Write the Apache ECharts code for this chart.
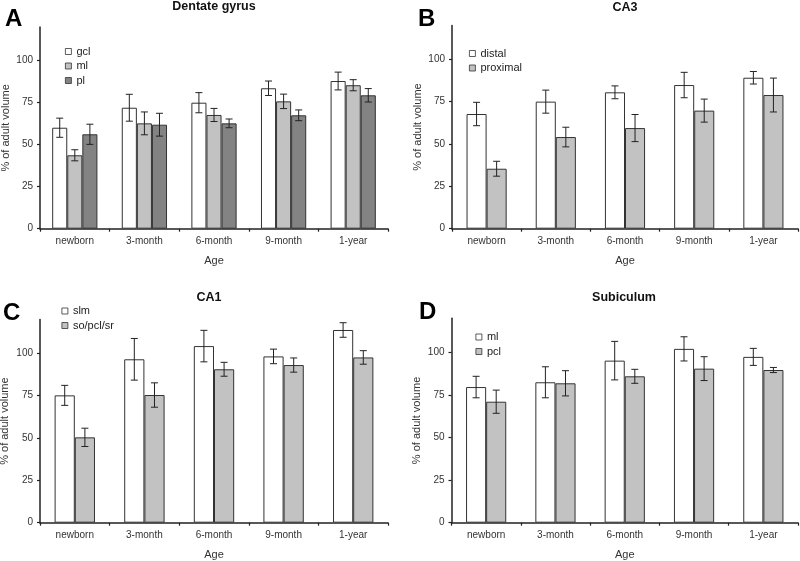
<!DOCTYPE html>
<html>
<head>
<meta charset="utf-8">
<script src="https://cdn.jsdelivr.net/npm/echarts@6/dist/echarts.min.js"></script>
<style>
html,body{margin:0;padding:0;background:#fff;}
#c{width:800px;height:561px;}
</style>
</head>
<body>
<div id="c"></div>
<script>
// ---- data ----
const ages = ['newborn', '3-month', '6-month', '9-month', '1-year'];
const yTicks = [0, 25, 50, 75, 100];

// A: Dentate gyrus
const dgGcl = [60.1, 72.0, 75.0, 83.6, 87.9];
const dgGclErr = [5.7, 8.0, 6.0, 4.3, 5.3];
const dgMl = [43.7, 62.7, 67.7, 75.8, 85.4];
const dgMlErr = [3.3, 6.8, 3.9, 4.3, 3.3];
const dgPl = [56.2, 61.9, 62.7, 67.5, 79.4];
const dgPlErr = [6.0, 6.8, 2.6, 3.2, 4.0];

// B: CA3
const ca3Distal = [67.7, 75.0, 80.5, 84.8, 89.1];
const ca3DistalErr = [6.9, 6.8, 3.8, 7.5, 3.7];
const ca3Proximal = [35.4, 54.1, 59.4, 69.7, 78.9];
const ca3ProximalErr = [4.4, 5.8, 8.0, 6.8, 10.0];

// C: CA1
const ca1Slm = [75.2, 96.5, 104.3, 98.2, 113.8];
const ca1SlmErr = [5.9, 12.3, 9.3, 4.3, 4.3];
const ca1So = [50.4, 75.4, 90.6, 93.1, 97.6];
const ca1SoErr = [5.4, 7.2, 4.1, 4.2, 4.0];

// D: Subiculum
const subMl = [79.6, 82.4, 95.1, 102.0, 97.3];
const subMlErr = [6.3, 9.1, 11.3, 7.1, 5.0];
const subPcl = [71.0, 81.8, 85.9, 90.4, 89.6];
const subPclErr = [6.8, 7.4, 4.1, 7.0, 1.5];

// ---- panels ----
const WHITE = '#ffffff', LIGHT = '#c2c2c2', DARK = '#838383';
const panels = [
  { key: 'A', title: 'Dentate gyrus', names: ['gcl', 'ml', 'pl'],
    values: [dgGcl, dgMl, dgPl], errs: [dgGclErr, dgMlErr, dgPlErr],
    colors: [WHITE, LIGHT, DARK], gap: 0.35 },
  { key: 'B', title: 'CA3', names: ['distal', 'proximal'],
    values: [ca3Distal, ca3Proximal], errs: [ca3DistalErr, ca3ProximalErr],
    colors: [WHITE, LIGHT], gap: 0.42 },
  { key: 'C', title: 'CA1', names: ['slm', 'so/pcl/sr'],
    values: [ca1Slm, ca1So], errs: [ca1SlmErr, ca1SoErr],
    colors: [WHITE, LIGHT], gap: 0.42 },
  { key: 'D', title: 'Subiculum', names: ['ml', 'pcl'],
    values: [subMl, subPcl], errs: [subMlErr, subPclErr],
    colors: [WHITE, LIGHT], gap: 0.42 }
];

// layout
const grids = [
  { left: 40, top: 27.1, width: 348, height: 201.6 },
  { left: 452, top: 25.4, width: 346, height: 203.3 },
  { left: 40, top: 319.5, width: 348, height: 203.2 },
  { left: 451.5, top: 318.2, width: 346.5, height: 204.5 }
];
const titlePos = [
  { x: 214, y: 0 }, { x: 625, y: 1 }, { x: 209, y: 291 }, { x: 624, y: 291 }
];
const letterPos = [
  { x: 5, y: 7 }, { x: 418, y: 7 }, { x: 3, y: 301.5 }, { x: 419, y: 300.5 }
];
const legendPos = [
  { left: 65, top: 45.5 }, { left: 469, top: 47.5 }, { left: 61.5, top: 305 }, { left: 475.5, top: 331 }
];
const yNameGap = [28.5, 28.5, 29.5, 29];

const FONT = '"Liberation Sans", Arial, sans-serif';
const AXIS = '#222';

const option = {
  backgroundColor: '#fff',
  animation: false,
  textStyle: { fontFamily: FONT },
  title: [],
  grid: [],
  xAxis: [],
  yAxis: [],
  legend: [],
  series: []
};

panels.forEach((p, gi) => {
  option.grid.push(Object.assign({ containLabel: false, outerBoundsMode: 'none' }, grids[gi]));
  option.title.push({
    text: p.title, left: titlePos[gi].x, top: titlePos[gi].y, textAlign: 'center', padding: 0,
    textStyle: { fontFamily: FONT, fontSize: 12.5, fontWeight: 'bold', color: '#111' }
  });
  option.title.push({
    text: p.key, left: letterPos[gi].x, top: letterPos[gi].y, padding: 0,
    textStyle: { fontFamily: FONT, fontSize: 24, fontWeight: 'bold', color: '#000' }
  });
  option.xAxis.push({
    type: 'category', gridIndex: gi, data: ages, boundaryGap: true,
    name: 'Age', nameLocation: 'middle', nameGap: 26.5,
    nameTextStyle: { fontFamily: FONT, fontSize: 11, color: '#333' },
    axisLine: { lineStyle: { color: AXIS, width: 1.5 } },
    axisTick: { show: true, interval: 0, length: 3, inside: false, lineStyle: { color: AXIS, width: 1.2 } },
    axisLabel: { interval: 0, margin: 8, fontFamily: FONT, fontSize: 10, color: '#333' },
    splitLine: { show: false }
  });
  option.yAxis.push({
    type: 'value', gridIndex: gi, min: 0, max: 120, interval: 25,
    name: '% of adult volume', nameLocation: 'middle', nameGap: yNameGap[gi], nameRotate: 90,
    nameTextStyle: { fontFamily: FONT, fontSize: 11, color: '#333' },
    axisLine: { show: true, lineStyle: { color: AXIS, width: 1.5 } },
    axisTick: { show: true, length: 3, inside: false, customValues: yTicks, lineStyle: { color: AXIS, width: 1.2 } },
    axisLabel: { margin: 7, customValues: yTicks, fontFamily: FONT, fontSize: 10, color: '#333' },
    splitLine: { show: false }
  });
  const legendData = p.names.map(n => p.key + '|' + n);
  option.legend.push({
    data: legendData, orient: 'vertical', left: legendPos[gi].left, top: legendPos[gi].top,
    icon: 'rect', itemWidth: 6, itemHeight: 6, itemGap: 2.5, itemTextGap: 2, padding: 0,
    selectedMode: false,
    itemStyle: { borderWidth: 0.8, borderColor: '#333' },
    formatter: name => name.split('|')[1],
    textStyle: { fontFamily: FONT, fontSize: 11, color: '#222', lineHeight: 12 }
  });
  const n = p.names.length;
  p.names.forEach((nm, si) => {
    option.series.push({
      type: 'bar', name: p.key + '|' + nm, xAxisIndex: gi, yAxisIndex: gi,
      data: p.values[si], barGap: '0%', barCategoryGap: (p.gap * 100) + '%',
      itemStyle: { color: p.colors[si], borderColor: '#333', borderWidth: 1 },
      emphasis: { disabled: true }, z: 2
    });
  });
  p.names.forEach((nm, si) => {
    const vals = p.values[si], errs = p.errs[si];
    option.series.push({
      type: 'custom', name: p.key + '|err|' + nm, xAxisIndex: gi, yAxisIndex: gi, z: 5,
      data: vals.map((v, i) => [i, v, errs[i]]),
      encode: { x: 0, y: 1 },
      renderItem: (params, api) => {
        const idx = api.value(0), v = api.value(1), e = api.value(2);
        const catW = api.size([1, 0])[0];
        const used = catW * (1 - p.gap);
        const bw = used / n;
        const off = -used / 2 + bw * (si + 0.5);
        const hi = api.coord([idx, v + e]);
        const lo = api.coord([idx, v - e]);
        const x = hi[0] + off;
        const cap = 3.5;
        const st = { stroke: '#222', lineWidth: 1 };
        return {
          type: 'group', children: [
            { type: 'line', shape: { x1: x, y1: hi[1], x2: x, y2: lo[1] }, style: st },
            { type: 'line', shape: { x1: x - cap, y1: hi[1], x2: x + cap, y2: hi[1] }, style: st },
            { type: 'line', shape: { x1: x - cap, y1: lo[1], x2: x + cap, y2: lo[1] }, style: st }
          ]
        };
      }
    });
  });
});

const chart = echarts.init(document.getElementById('c'), null, { renderer: 'canvas' });
chart.setOption(option);
</script>
</body>
</html>
